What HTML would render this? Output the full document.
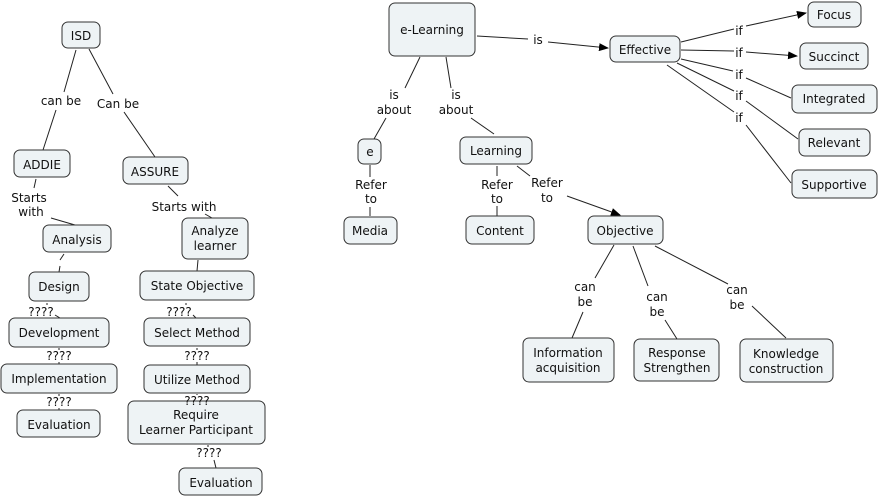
<!DOCTYPE html>
<html><head><style>
body{margin:0;background:#fff}
svg{display:block}
text{font-family:"DejaVu Sans","Liberation Sans",sans-serif;font-size:12px;fill:#111;text-anchor:middle}
.n{fill:#eef3f5;stroke:#333;stroke-width:1}
.l{stroke:#222;stroke-width:1;fill:none}
</style></head><body>
<svg width="880" height="498" viewBox="0 0 880 498">
<defs><marker id="a" markerWidth="10" markerHeight="8" refX="9" refY="4" orient="auto" markerUnits="userSpaceOnUse"><path d="M0,0L10,4L0,8z" fill="#000"/></marker></defs>
<g class="l">
<path d="M76,50L64,92M56,110L43,150"/>
<path d="M89,49L113,94M124,112L155,157"/>
<path d="M36,179L34,188M51,218L75,225"/>
<path d="M168,186L178,196M205,214L212,218"/>
<path d="M64,254L60,260M60,266L59,272"/>
<path d="M198,260L197,271"/>
<path d="M47,303L47,305M55,315L60,318"/>
<path d="M186,303L186,305M193,315L196,318"/>
<path d="M59,348L59,350M59,362L59,364"/>
<path d="M197,348L197,350M197,362L197,365"/>
<path d="M59,394L59,396M59,408L59,410"/>
<path d="M197,394L197,395"/>
<path d="M208,445L208,447M214,460L216,468"/>
<path d="M420,57L405,88M386,118L374,139"/>
<path d="M446,57L451,88M471,118L494,134"/>
<path d="M477,36L528,39"/>
<path d="M548,42L608,48" marker-end="url(#a)"/>
<path d="M681,42L734,29M746,26L806,13" marker-end="url(#a)"/>
<path d="M681,50L734,51M746,52L797,56" marker-end="url(#a)"/>
<path d="M681,59L733,71M746,78L791,98"/>
<path d="M677,63L734,91M746,101L798,139"/>
<path d="M667,65L734,112M746,125L791,183"/>
<path d="M370,165L370,177M370,207L370,216"/>
<path d="M497,166L497,176M497,206L497,216"/>
<path d="M517,166L530,176M567,196L620,215" marker-end="url(#a)"/>
<path d="M614,245L595,278M583,312L572,338"/>
<path d="M633,246L648,286M665,320L677,339"/>
<path d="M655,246L728,284M752,306L786,338"/>
</g>
<g>
<rect class="n" x="62" y="22" width="38" height="26" rx="6"/><text x="81" y="40">ISD</text>
<rect class="n" x="14" y="150" width="56" height="27" rx="6"/><text x="42" y="169">ADDIE</text>
<rect class="n" x="123" y="157" width="65" height="27" rx="6"/><text x="155" y="176">ASSURE</text>
<rect class="n" x="43" y="225" width="68" height="27" rx="6"/><text x="77" y="244">Analysis</text>
<rect class="n" x="182" y="218" width="66" height="41" rx="6"/><text x="215" y="235">Analyze</text><text x="215" y="250">learner</text>
<rect class="n" x="29" y="272" width="60" height="29" rx="6"/><text x="59" y="291">Design</text>
<rect class="n" x="140" y="271" width="114" height="29" rx="6"/><text x="197" y="290">State Objective</text>
<rect class="n" x="9" y="318" width="100" height="29" rx="6"/><text x="59" y="337">Development</text>
<rect class="n" x="144" y="318" width="106" height="28" rx="6"/><text x="197" y="337">Select Method</text>
<rect class="n" x="1" y="364" width="116" height="29" rx="6"/><text x="59" y="383">Implementation</text>
<rect class="n" x="144" y="365" width="106" height="28" rx="6"/><text x="197" y="384">Utilize Method</text>
<rect class="n" x="17" y="410" width="83" height="27" rx="6"/><text x="59" y="429">Evaluation</text>
<rect class="n" x="128" y="401" width="137" height="43" rx="6"/><text x="196" y="419">Require</text><text x="196" y="434">Learner Participant</text>
<rect class="n" x="179" y="468" width="83" height="27" rx="6"/><text x="221" y="487">Evaluation</text>
<rect class="n" x="389" y="3" width="86" height="53" rx="6"/><text x="432" y="34">e-Learning</text>
<rect class="n" x="610" y="36" width="70" height="26" rx="6"/><text x="645" y="54">Effective</text>
<rect class="n" x="808" y="2" width="53" height="25" rx="6"/><text x="834" y="19">Focus</text>
<rect class="n" x="800" y="43" width="68" height="26" rx="6"/><text x="834" y="61">Succinct</text>
<rect class="n" x="792" y="85" width="85" height="28" rx="6"/><text x="834" y="103">Integrated</text>
<rect class="n" x="799" y="129" width="71" height="27" rx="6"/><text x="834" y="147">Relevant</text>
<rect class="n" x="792" y="170" width="85" height="28" rx="6"/><text x="834" y="189">Supportive</text>
<rect class="n" x="358" y="139" width="23" height="25" rx="6"/><text x="370" y="156">e</text>
<rect class="n" x="460" y="137" width="72" height="27" rx="6"/><text x="496" y="155">Learning</text>
<rect class="n" x="344" y="217" width="53" height="27" rx="6"/><text x="370" y="235">Media</text>
<rect class="n" x="466" y="216" width="68" height="28" rx="6"/><text x="500" y="235">Content</text>
<rect class="n" x="588" y="216" width="75" height="28" rx="6"/><text x="625" y="235">Objective</text>
<rect class="n" x="523" y="338" width="91" height="44" rx="6"/><text x="568" y="357">Information</text><text x="568" y="372">acquisition</text>
<rect class="n" x="634" y="339" width="85" height="42" rx="6"/><text x="677" y="357">Response</text><text x="677" y="372">Strengthen</text>
<rect class="n" x="740" y="339" width="93" height="43" rx="6"/><text x="786" y="358">Knowledge</text><text x="786" y="373">construction</text>
</g>
<g>
<text x="61" y="105">can be</text>
<text x="118" y="108">Can be</text>
<text x="29" y="202">Starts</text><text x="31" y="216">with</text>
<text x="184" y="211">Starts with</text>
<text x="41" y="316">????</text>
<text x="179" y="316">????</text>
<text x="59" y="360">????</text>
<text x="197" y="360">????</text>
<text x="59" y="406">????</text>
<text x="197" y="405">????</text>
<text x="209" y="457">????</text>
<text x="538" y="44">is</text>
<text x="739" y="35">if</text><text x="739" y="57">if</text><text x="739" y="79">if</text><text x="739" y="100">if</text><text x="739" y="122">if</text>
<text x="394" y="99">is</text><text x="394" y="114">about</text>
<text x="456" y="99">is</text><text x="456" y="114">about</text>
<text x="371" y="189">Refer</text><text x="371" y="203">to</text>
<text x="497" y="189">Refer</text><text x="497" y="203">to</text>
<text x="547" y="187">Refer</text><text x="547" y="202">to</text>
<text x="585" y="291">can</text><text x="585" y="306">be</text>
<text x="657" y="301">can</text><text x="657" y="316">be</text>
<text x="737" y="294">can</text><text x="737" y="309">be</text>
</g>
</svg>
</body></html>
